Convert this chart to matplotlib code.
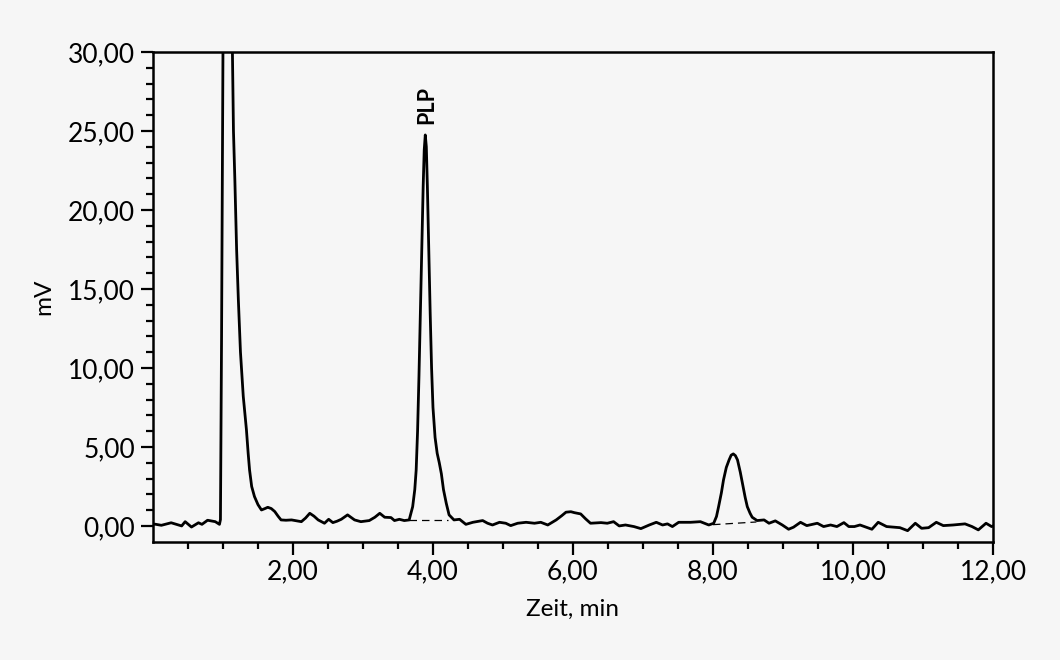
import numpy as np
import matplotlib.pyplot as plt
from matplotlib.ticker import FixedLocator, FuncFormatter

# Chromatogram trace (time in min, signal in mV)
time_min = [
    0.00, 0.03, 0.12, 0.26, 0.41, 0.46, 0.55, 0.65, 0.70, 0.78, 0.89, 0.95,
    0.964, 0.98, 1.00, 1.02, 1.06, 1.10, 1.135, 1.15, 1.17, 1.195, 1.22, 1.25,
    1.29, 1.335, 1.36, 1.38, 1.41, 1.45, 1.50, 1.55, 1.60, 1.64, 1.69, 1.74,
    1.79, 1.83, 1.90, 1.98, 2.12, 2.18, 2.24, 2.30, 2.36, 2.45, 2.51, 2.57,
    2.63, 2.69, 2.78, 2.88, 2.97, 3.09, 3.17, 3.24, 3.31, 3.40, 3.45, 3.52,
    3.59, 3.66, 3.71, 3.74, 3.76, 3.78, 3.80, 3.82, 3.84, 3.86, 3.875, 3.89,
    3.905, 3.92, 3.94, 3.96, 3.98, 4.00, 4.03, 4.06, 4.09, 4.12, 4.15, 4.19,
    4.23, 4.30, 4.38, 4.47, 4.57, 4.71, 4.78, 4.85, 4.95, 5.04, 5.11, 5.21,
    5.33, 5.45, 5.54, 5.64, 5.76, 5.84, 5.90, 5.97, 6.02, 6.11, 6.18, 6.25,
    6.40, 6.49, 6.58, 6.66, 6.75, 6.87, 6.97, 7.09, 7.19, 7.28, 7.35, 7.42,
    7.51, 7.68, 7.82, 7.94, 8.01, 8.05, 8.08, 8.12, 8.15, 8.19, 8.23, 8.26,
    8.29, 8.32, 8.35, 8.39, 8.42, 8.46, 8.49, 8.53, 8.56, 8.63, 8.73, 8.80,
    8.89, 8.99, 9.08, 9.15, 9.25, 9.34, 9.49, 9.58, 9.68, 9.77, 9.87, 9.94,
    10.02, 10.10, 10.27, 10.36, 10.48, 10.67, 10.78, 10.89, 10.98, 11.08,
    11.19, 11.29, 11.43, 11.60, 11.70, 11.79, 11.90, 11.98, 12.00,
]
signal_mv = [
    0.10, 0.11, 0.04, 0.20, 0.00, 0.27, -0.07, 0.20, 0.10, 0.36, 0.27, 0.10,
    0.40, 12.0, 30.0, 42.0, 50.0, 42.0, 30.0, 25.0, 21.9, 17.5, 14.3, 11.0,
    8.2, 6.1, 4.6, 3.54, 2.5, 1.86, 1.35, 1.01, 1.10, 1.18, 1.10, 0.91,
    0.60, 0.38, 0.36, 0.38, 0.27, 0.50, 0.80, 0.62, 0.38, 0.17, 0.42, 0.21,
    0.30, 0.42, 0.70, 0.38, 0.27, 0.34, 0.55, 0.80, 0.55, 0.53, 0.34, 0.42,
    0.34, 0.38, 1.22, 2.3, 3.54, 6.0, 9.5, 13.5, 17.5, 21.5, 23.8, 24.75,
    24.0, 21.5, 17.5, 13.5, 10.0, 7.5, 5.6, 4.6, 4.0, 3.3, 2.3, 1.43,
    0.70, 0.38, 0.42, 0.10, 0.23, 0.34, 0.17, 0.06, 0.23, 0.17, 0.02, 0.17,
    0.23, 0.17, 0.23, 0.06, 0.38, 0.65, 0.87, 0.90, 0.84, 0.76, 0.45, 0.17,
    0.21, 0.17, 0.27, 0.00, 0.06, -0.04, -0.17, 0.06, 0.23, 0.06, 0.13, -0.04,
    0.23, 0.23, 0.27, 0.06, 0.17, 0.60, 1.22, 2.10, 2.91, 3.70, 4.18, 4.48,
    4.56, 4.45, 4.18, 3.40, 2.70, 1.80, 1.22, 0.80, 0.55, 0.34, 0.38, 0.17,
    0.32, 0.06, -0.21, -0.08, 0.23, 0.02, 0.17, -0.04, 0.06, -0.04, 0.21, -0.04,
    -0.04, 0.06, -0.21, 0.23, -0.04, -0.11, -0.30, 0.17, -0.15, -0.11,
    0.23, 0.02, 0.06, 0.13, -0.04, -0.25, 0.17, -0.04, 0.00,
]

# Integration baselines (dashed) under the two integrated peaks
base1_t = [3.66, 4.22]
base1_v = [0.38, 0.38]
base2_t = [8.00, 8.62]
base2_v = [0.08, 0.25]

peak_label = "PLP"
peak_t = 3.89
peak_v = 24.75

x_major = [2, 4, 6, 8, 10, 12]
x_minor = [0.5, 1, 1.5, 2.5, 3, 3.5, 4.5, 5, 5.5, 6.5, 7, 7.5,
           8.5, 9, 9.5, 10.5, 11, 11.5]
y_major = [0, 5, 10, 15, 20, 25, 30]
y_minor = [1, 2, 3, 4, 6, 7, 8, 9, 11, 12, 13, 14, 16, 17, 18, 19,
           21, 22, 23, 24, 26, 27, 28, 29]

bg = "#f6f6f6"
plt.rcParams["font.family"] = ["Lato", "DejaVu Sans"]

fig = plt.figure(figsize=(10.6, 6.6), dpi=100, facecolor=bg)
ax = fig.add_axes([0.1443, 0.1792, 0.7925, 0.742], facecolor=bg)

ax.plot(time_min, signal_mv, color="black", lw=2.0, solid_joinstyle="round")
ax.plot(base1_t, base1_v, color="black", lw=0.9, ls=(0, (6, 4)))
ax.plot(base2_t, base2_v, color="black", lw=0.9, ls=(0, (6, 4)))

ax.text(peak_t + 0.02, peak_v + 0.7, peak_label, rotation=90, ha="center",
        va="bottom", fontsize=15.5, fontweight="bold")

ax.set_xlim(0, 12)
ax.set_ylim(-1, 30)

ax.xaxis.set_major_locator(FixedLocator(x_major))
ax.xaxis.set_minor_locator(FixedLocator(x_minor))
ax.yaxis.set_major_locator(FixedLocator(y_major))
ax.yaxis.set_minor_locator(FixedLocator(y_minor))

comma = FuncFormatter(lambda v, p: f"{v:.2f}".replace(".", ","))
ax.xaxis.set_major_formatter(comma)
ax.yaxis.set_major_formatter(comma)

ax.tick_params(which="major", length=9, width=1.6, labelsize=19, pad=4)
ax.tick_params(which="minor", length=5, width=1.6)
for s in ax.spines.values():
    s.set_linewidth(1.8)

ax.set_xlabel("Zeit, min", fontsize=17.5, labelpad=10)
ax.set_ylabel("mV", fontsize=17.5, labelpad=10)

plt.savefig("out.png", dpi=100, facecolor=bg)
